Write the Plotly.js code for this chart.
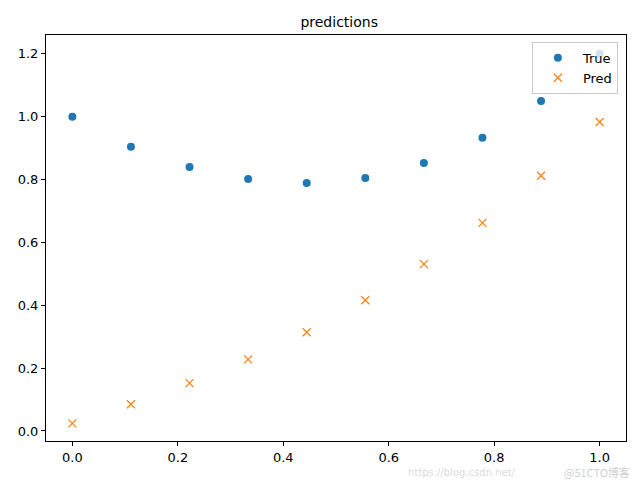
<!DOCTYPE html>
<html><head><meta charset="utf-8">
<script src="https://cdn.plot.ly/plotly-3.0.1.min.js"></script>
<style>body{margin:0}#c{width:640px;height:480px}</style>
</head><body><div id="c"></div>
<script>
const xVals = [0, 1/9, 2/9, 3/9, 4/9, 5/9, 6/9, 7/9, 8/9, 1];
const trueVals = [1.0, 0.904, 0.840, 0.802, 0.789, 0.805, 0.853, 0.933, 1.050, 1.200];
const predVals = [0.024, 0.085, 0.152, 0.228, 0.314, 0.416, 0.531, 0.662, 0.812, 0.983];
const xTicks = [0, 0.2, 0.4, 0.6, 0.8, 1.0];
const yTicks = [0, 0.2, 0.4, 0.6, 0.8, 1.0, 1.2];
const font = {family: 'DejaVu Sans', size: 13, color: '#000'};
const traces = [
  {x: xVals, y: trueVals, name: 'True', mode: 'markers', type: 'scatter',
   marker: {symbol: 'circle', size: 8, color: '#1f77b4'}},
  {x: xVals, y: predVals, name: 'Pred', mode: 'markers', type: 'scatter',
   marker: {symbol: 'x-thin-open', size: 8, color: '#ff7f0e', line: {width: 1.2, color: '#ff7f0e'}}}
];
const axisCommon = {showgrid: false, zeroline: false, showline: true, mirror: true,
  linecolor: '#000', linewidth: 1, ticks: 'outside', ticklen: 4, tickcolor: '#000',
  tickfont: font};
const layout = {
  width: 640, height: 480,
  margin: {l: 46, r: 14, t: 35, b: 39},
  paper_bgcolor: '#fff', plot_bgcolor: '#fff',
  font: font,
  title: {text: 'predictions', font: {family: 'DejaVu Sans', size: 14, color: '#000'}, x: 0.53, xanchor: 'center', y: 0.955, yanchor: 'middle'},
  xaxis: Object.assign({}, axisCommon, {range: [-0.05, 1.05], tickvals: xTicks, ticktext: xTicks.map(v => v.toFixed(1))}),
  yaxis: Object.assign({}, axisCommon, {range: [-0.032, 1.26], tickvals: yTicks, ticktext: yTicks.map(v => v.toFixed(1))}),
  showlegend: true,
  legend: {x: 0.986, y: 0.983, xanchor: 'right', yanchor: 'top',
    bgcolor: 'rgba(255,255,255,0.8)', bordercolor: '#ccc', borderwidth: 1,
    font: font, itemwidth: 40, tracegroupgap: 0},
  annotations: [
    {text: 'https://blog.csdn.net/', xref: 'paper', yref: 'paper', x: 0.62, y: -0.077, xanchor: 'left', yanchor: 'middle', showarrow: false, font: {family: 'DejaVu Sans', size: 10, color: 'rgba(200,200,200,0.7)'}},
    {text: '@51CTO博客', xref: 'paper', yref: 'paper', x: 1.01, y: -0.077, xanchor: 'right', yanchor: 'middle', showarrow: false, font: {family: 'Noto Sans CJK SC', size: 11, color: 'rgba(190,190,190,0.75)'}}
  ]
};
Plotly.newPlot('c', traces, layout, {displayModeBar: false});
</script></body></html>
